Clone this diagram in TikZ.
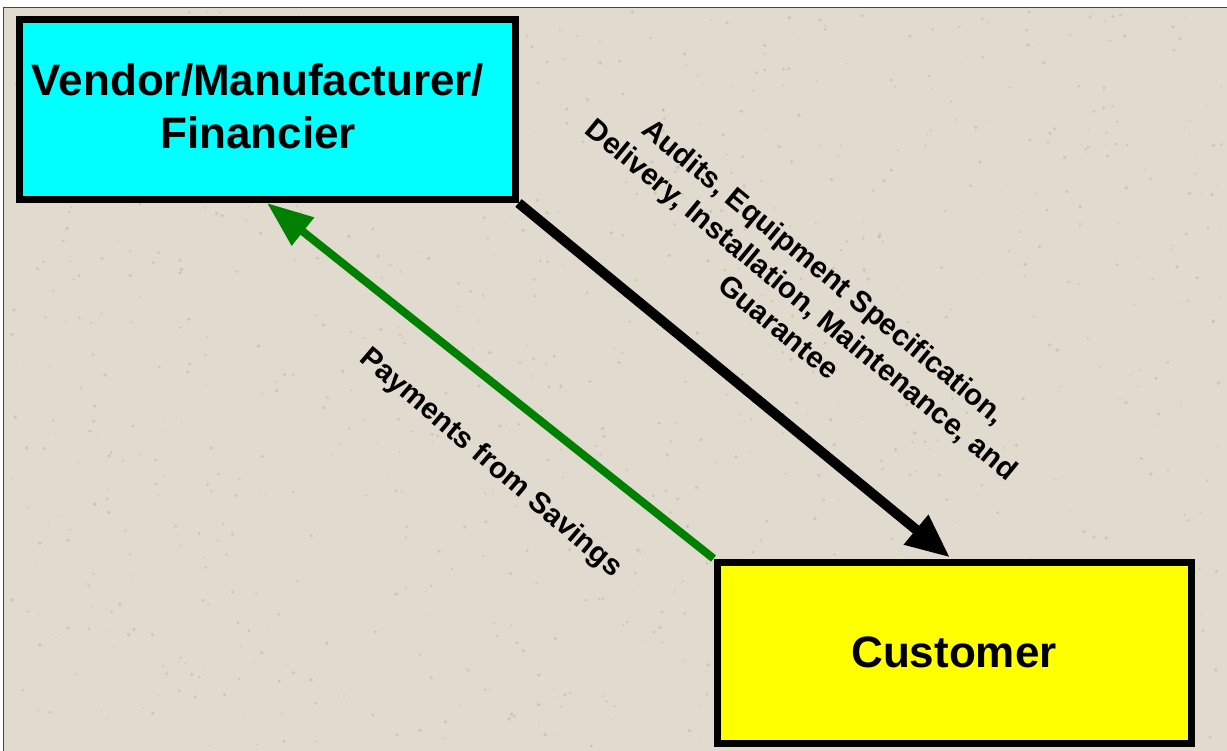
\documentclass[tikz,border=0pt]{standalone}
\usepackage{fontspec}
\setmainfont{Liberation Sans}
\usetikzlibrary{arrows.meta,calc}

\definecolor{paper}{RGB}{225,218,206}
\definecolor{speck}{RGB}{190,182,168}
\definecolor{framegray}{RGB}{70,70,70}
\definecolor{boxcyan}{RGB}{0,255,255}
\definecolor{boxyellow}{RGB}{255,255,0}
\definecolor{flowgreen}{RGB}{0,128,0}

\tikzset{
  party/.style={draw=black, line width=7pt, rectangle, inner sep=0pt},
  partytext/.style={align=center, inner sep=0pt,
    font=\bfseries\fontsize{44}{53}\selectfont},
  flowlabel/.style={align=center, inner sep=0pt,
    font=\bfseries\fontsize{29.5}{36}\selectfont},
  serviceflow/.style={draw=black, line width=10pt,
    -{Triangle[length=44pt,width=36pt]}},
  paymentflow/.style={draw=flowgreen, line width=8pt,
    -{Triangle[length=46pt,width=34pt]}}
}

\begin{document}
\begin{tikzpicture}[x=1pt,y=-1pt]
  \useasboundingbox (0,0) rectangle (1227,751);
  \fill[white] (0,0) rectangle (1227,751);

  % paper-textured slide background
  \fill[paper] (3.5,7.5) rectangle (1230,760);
  \pgfmathsetseed{4242}
  \foreach \i in {1,...,900}{
    \pgfmathsetmacro{\px}{8+rnd*1215}
    \pgfmathsetmacro{\py}{12+rnd*735}
    \pgfmathsetmacro{\pr}{0.6+rnd*1.3}
    \fill[speck, opacity=0.6] (\px,\py) circle (\pr);
  }
  \draw[framegray, line width=1.5pt] (3.5,760) -- (3.5,7.5) -- (1230,7.5);

  % the two parties
  \node[party, fill=boxcyan, minimum width=496pt, minimum height=180pt]
    (vendor) at (267,109.5) {};
  \node[partytext] (vendortext) at ($(vendor.center)+(-9,-3)$)
    {Vendor/Manufacturer/\\Financier};
  \node[party, fill=boxyellow, minimum width=474pt, minimum height=181pt]
    (customer) at (954,652.5) {};
  \node[partytext] (customertext) at (customer.center) {Customer};

  % services flow to the customer, payments flow back
  \draw[serviceflow] (vendor.south east) -- ($(customer.north)+(-4,-1)$);
  \draw[paymentflow] (customer.north west) -- (vendor.south);

  \node[flowlabel, rotate=-39.5] (services) at (802,299)
    {Audits, Equipment Specification,\\Delivery, Installation, Maintenance, and\\Guarantee};
  \node[flowlabel, rotate=-40.5] (payments) at (490.5,463.5)
    {Payments from Savings};
\end{tikzpicture}
\end{document}
